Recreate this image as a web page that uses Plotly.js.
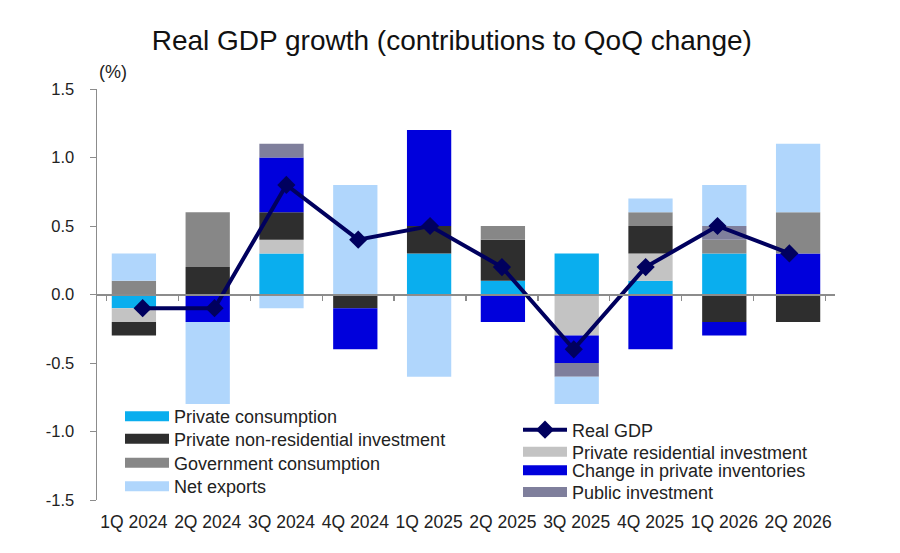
<!DOCTYPE html>
<html>
<head>
<meta charset="utf-8">
<script src="https://cdn.plot.ly/plotly-3.0.1.min.js"></script>
<style>html,body{margin:0;padding:0;background:#fff;}#chart{width:900px;height:553px;}</style>
</head>
<body>
<div id="chart"></div>
<script>
const quarters = ["1Q 2024","2Q 2024","3Q 2024","4Q 2024","1Q 2025","2Q 2025","3Q 2025","4Q 2025","1Q 2026","2Q 2026"];
const privateConsumption   = [-0.1, 0.0, 0.3, 0.0, 0.3, 0.1, 0.3, 0.1, 0.3, 0.0];
const privateResidential   = [-0.1, 0.0, 0.1, 0.0, 0.0, 0.0,-0.3, 0.2, 0.0, 0.0];
const privateNonResidential= [-0.1, 0.2, 0.2,-0.1, 0.2, 0.3, 0.0, 0.2,-0.2,-0.2];
const inventories          = [ 0.0,-0.2, 0.4,-0.3, 0.7,-0.2,-0.2,-0.4,-0.1, 0.3];
const govConsumption       = [ 0.1, 0.4, 0.0, 0.0, 0.0, 0.1, 0.0, 0.1, 0.1, 0.3];
const publicInvestment     = [ 0.0, 0.0, 0.1, 0.0, 0.0, 0.0,-0.1, 0.0, 0.1, 0.0];
const netExports           = [ 0.2,-0.6,-0.1, 0.8,-0.6, 0.0,-0.2, 0.1, 0.3, 0.5];
const realGDP              = [-0.1,-0.1, 0.8, 0.4, 0.5, 0.2,-0.4, 0.2, 0.5, 0.3];
const yTickVals   = [-1.5, -1.0, -0.5, 0.0, 0.5, 1.0, 1.5];
const yTickLabels = ["-1.5", "-1.0", "-0.5", "0.0", "0.5", "1.0", "1.5"];

const series = [
  {name:'Private consumption',                 y:privateConsumption,    color:'#0AAEEE', legend:'legend'},
  {name:'Private residential investment',      y:privateResidential,    color:'#C3C3C3', legend:'legend6'},
  {name:'Private non-residential investment',  y:privateNonResidential, color:'#2E2E2E', legend:'legend2'},
  {name:'Change in private inventories',       y:inventories,           color:'#0000DC', legend:'legend7'},
  {name:'Government consumption',              y:govConsumption,        color:'#878787', legend:'legend3'},
  {name:'Public investment',                   y:publicInvestment,      color:'#7F7F9C', legend:'legend8'},
  {name:'Net exports',                         y:netExports,            color:'#B0D6FC', legend:'legend4'}
];

const traces = [];
series.forEach(s => {
  traces.push({type:'bar', name:s.name, x:quarters, y:s.y, marker:{color:s.color, line:{width:0}},
               showlegend:false, hoverinfo:'skip'});
});
// legend swatches (wide rectangles, like the reference)
series.forEach(s => {
  traces.push({type:'scatter', mode:'lines', name:s.name, x:[null], y:[null],
               line:{color:s.color, width:10}, legend:s.legend, showlegend:true, hoverinfo:'skip'});
});
traces.push({type:'scatter', mode:'lines+markers', name:'Real GDP', x:quarters, y:realGDP, xaxis:'x2',
   line:{color:'#00005E', width:4}, marker:{symbol:'diamond', size:14, color:'#00005E'},
   legend:'legend5', hoverinfo:'skip'});

const fontFam = '"Liberation Sans", Arial, sans-serif';
// plot area spans y pixels 89 (top) .. 500 (bottom)
function py(p){ return (500 - p) / 411; }
function px(p){ return (p - 97) / 738; }
function leg(xpx, ypx){
  return {x:px(xpx), xanchor:'left', y:py(ypx), yanchor:'middle', bgcolor:'rgba(0,0,0,0)',
          font:{size:18, color:'#222', family:fontFam}, itemwidth:44, borderwidth:0};
}
const layout = {
  width:900, height:553,
  margin:{l:97, r:65, t:89, b:53},
  paper_bgcolor:'#fff', plot_bgcolor:'#fff',
  barmode:'relative', bargap:0.4,
  font:{family:fontFam, size:16, color:'#222'},
  title:{text:'Real GDP growth (contributions to QoQ change)', font:{family:fontFam, size:28, color:'#111'},
         x:0.502, xanchor:'center', y:0.928, yanchor:'middle'},
  xaxis:{type:'category', showline:false, ticks:'', showgrid:false, zeroline:false,
         tickfont:{size:17.5, color:'#222'}, ticklabelstandoff:9},
  xaxis2:{type:'category', overlaying:'x', anchor:'free', position:0.5, side:'bottom',
          showline:true, linecolor:'#8C8C8C', linewidth:2, ticks:'outside', tickson:'boundaries',
          ticklen:5, tickcolor:'#8C8C8C', tickwidth:1.5, showticklabels:false, showgrid:false, zeroline:false},
  yaxis:{range:[-1.5,1.5], tickmode:'array', tickvals:yTickVals, ticktext:yTickLabels,
         showline:true, linecolor:'#8C8C8C', linewidth:1.5,
         ticks:'outside', ticklen:6, tickcolor:'#8C8C8C', showgrid:false, zeroline:false,
         tickfont:{size:16.5, color:'#222'}, ticklabelstandoff:12},
  legend: leg(120, 416.5),
  legend2:leg(120, 439),
  legend3:leg(120, 463),
  legend4:leg(120, 486.5),
  legend5:leg(518, 430),
  legend6:leg(518, 452),
  legend7:leg(518, 470.5),
  legend8:leg(518, 492.3),
  annotations:[{text:'(%)', xref:'paper', yref:'paper', x:0.0, y:1.0, yshift:17, xanchor:'left', yanchor:'middle',
                showarrow:false, font:{size:18, color:'#222'}}],
  showlegend:true
};
Plotly.newPlot('chart', traces, layout, {displayModeBar:false, staticPlot:true});
</script>
</body>
</html>
